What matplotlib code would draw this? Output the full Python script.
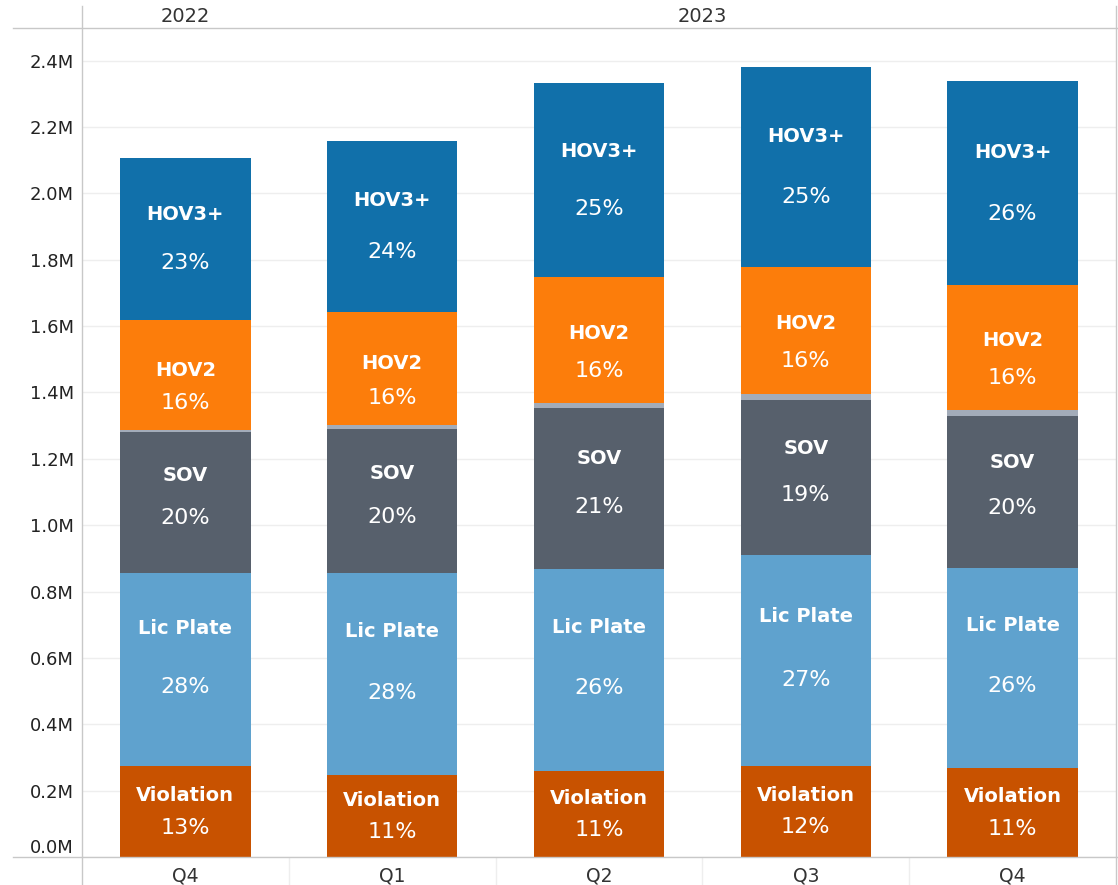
import matplotlib.pyplot as plt
from matplotlib.lines import Line2D
from matplotlib.transforms import blended_transform_factory

# values in millions, bottom to top
quarters = ["Q4", "Q1", "Q2", "Q3", "Q4"]
violation = [0.273, 0.246, 0.259, 0.275, 0.268]
lic_plate = [0.582, 0.609, 0.608, 0.634, 0.604]
sov = [0.426, 0.434, 0.485, 0.469, 0.458]
other = [0.007, 0.012, 0.015, 0.018, 0.018]
hov2 = [0.330, 0.342, 0.380, 0.382, 0.375]
hov3 = [0.488, 0.514, 0.584, 0.603, 0.615]

violation_pct = ["13%", "11%", "11%", "12%", "11%"]
lic_plate_pct = ["28%", "28%", "26%", "27%", "26%"]
sov_pct = ["20%", "20%", "21%", "19%", "20%"]
hov2_pct = ["16%", "16%", "16%", "16%", "16%"]
hov3_pct = ["23%", "24%", "25%", "25%", "26%"]

# name, values, labels, colour, label shift (px, + = down)
series = [
    ("Violation", violation, violation_pct, "#c85200", 0),
    ("Lic Plate", lic_plate, lic_plate_pct, "#5fa2ce", -12),
    ("SOV", sov, sov_pct, "#57606c", -6),
    (None, other, None, "#a3acb9", 0),
    ("HOV2", hov2, hov2_pct, "#fc7d0b", 12),
    ("HOV3+", hov3, hov3_pct, "#1170aa", 0),
]

fig = plt.figure(figsize=(11.18, 8.85), dpi=100)
ax = fig.add_axes([82 / 1118, 1 - 857 / 885, (1116 - 82) / 1118, (857 - 28) / 885])
px = 2.498 / 829  # data units per pixel

x = list(range(len(quarters)))
bottoms = [0.0] * len(x)
for name, vals, pcts, color, shift in series:
    ax.bar(x, vals, width=0.63, bottom=bottoms, color=color, zorder=3)
    if name is not None:
        for i in x:
            mid = bottoms[i] + vals[i] / 2 - shift * px
            off = min(max(vals[i] * 0.15, 16 * px), 32 * px)
            ax.text(i, mid + off, name, color="white", ha="center", va="center",
                    fontsize=14, fontweight="bold", zorder=4)
            ax.text(i, mid - off, pcts[i], color="white", ha="center", va="center",
                    fontsize=16, zorder=4)
    bottoms = [b + v for b, v in zip(bottoms, vals)]

ax.set_xlim(-0.5, len(x) - 0.5)
ax.set_ylim(0, 2.498)
yt = [i * 0.2 for i in range(13)]
ax.set_yticks(yt)
ax.set_yticklabels([f"{v:.1f}M" for v in yt], fontsize=13, color="#222222")
ax.get_yticklabels()[0].set_verticalalignment("bottom")
ax.set_xticks(x)
ax.set_xticklabels(quarters, fontsize=13.5, color="#333333")
ax.tick_params(axis="both", length=0)
ax.tick_params(axis="y", pad=6)
ax.tick_params(axis="x", pad=7)
ax.grid(axis="y", color="#eeeeee", linewidth=1, zorder=0)
for s in ax.spines.values():
    s.set_visible(False)

# separators under the quarter labels
ax.vlines([i + 0.5 for i in x[:-1]], -0.034, 0, transform=ax.get_xaxis_transform(),
          color="#eeeeee", linewidth=1, clip_on=False)

# year header
tr = blended_transform_factory(ax.transData, fig.transFigure)
ax.text(0, 1 - 17 / 885, "2022", transform=tr, ha="center", va="center",
        fontsize=14, color="#333333")
ax.text(2.5, 1 - 17 / 885, "2023", transform=tr, ha="center", va="center",
        fontsize=14, color="#333333")

# frame lines
lc = "#c8c8c8"
fig.add_artist(Line2D([13 / 1118, 1], [1 - 28 / 885] * 2, color=lc, lw=1))
fig.add_artist(Line2D([13 / 1118, 1], [1 - 857 / 885] * 2, color=lc, lw=1))
fig.add_artist(Line2D([82 / 1118] * 2, [0, 1 - 6 / 885], color=lc, lw=1))
fig.add_artist(Line2D([1116 / 1118] * 2, [0, 1 - 6 / 885], color=lc, lw=1))

fig.savefig("out.png", dpi=100)
